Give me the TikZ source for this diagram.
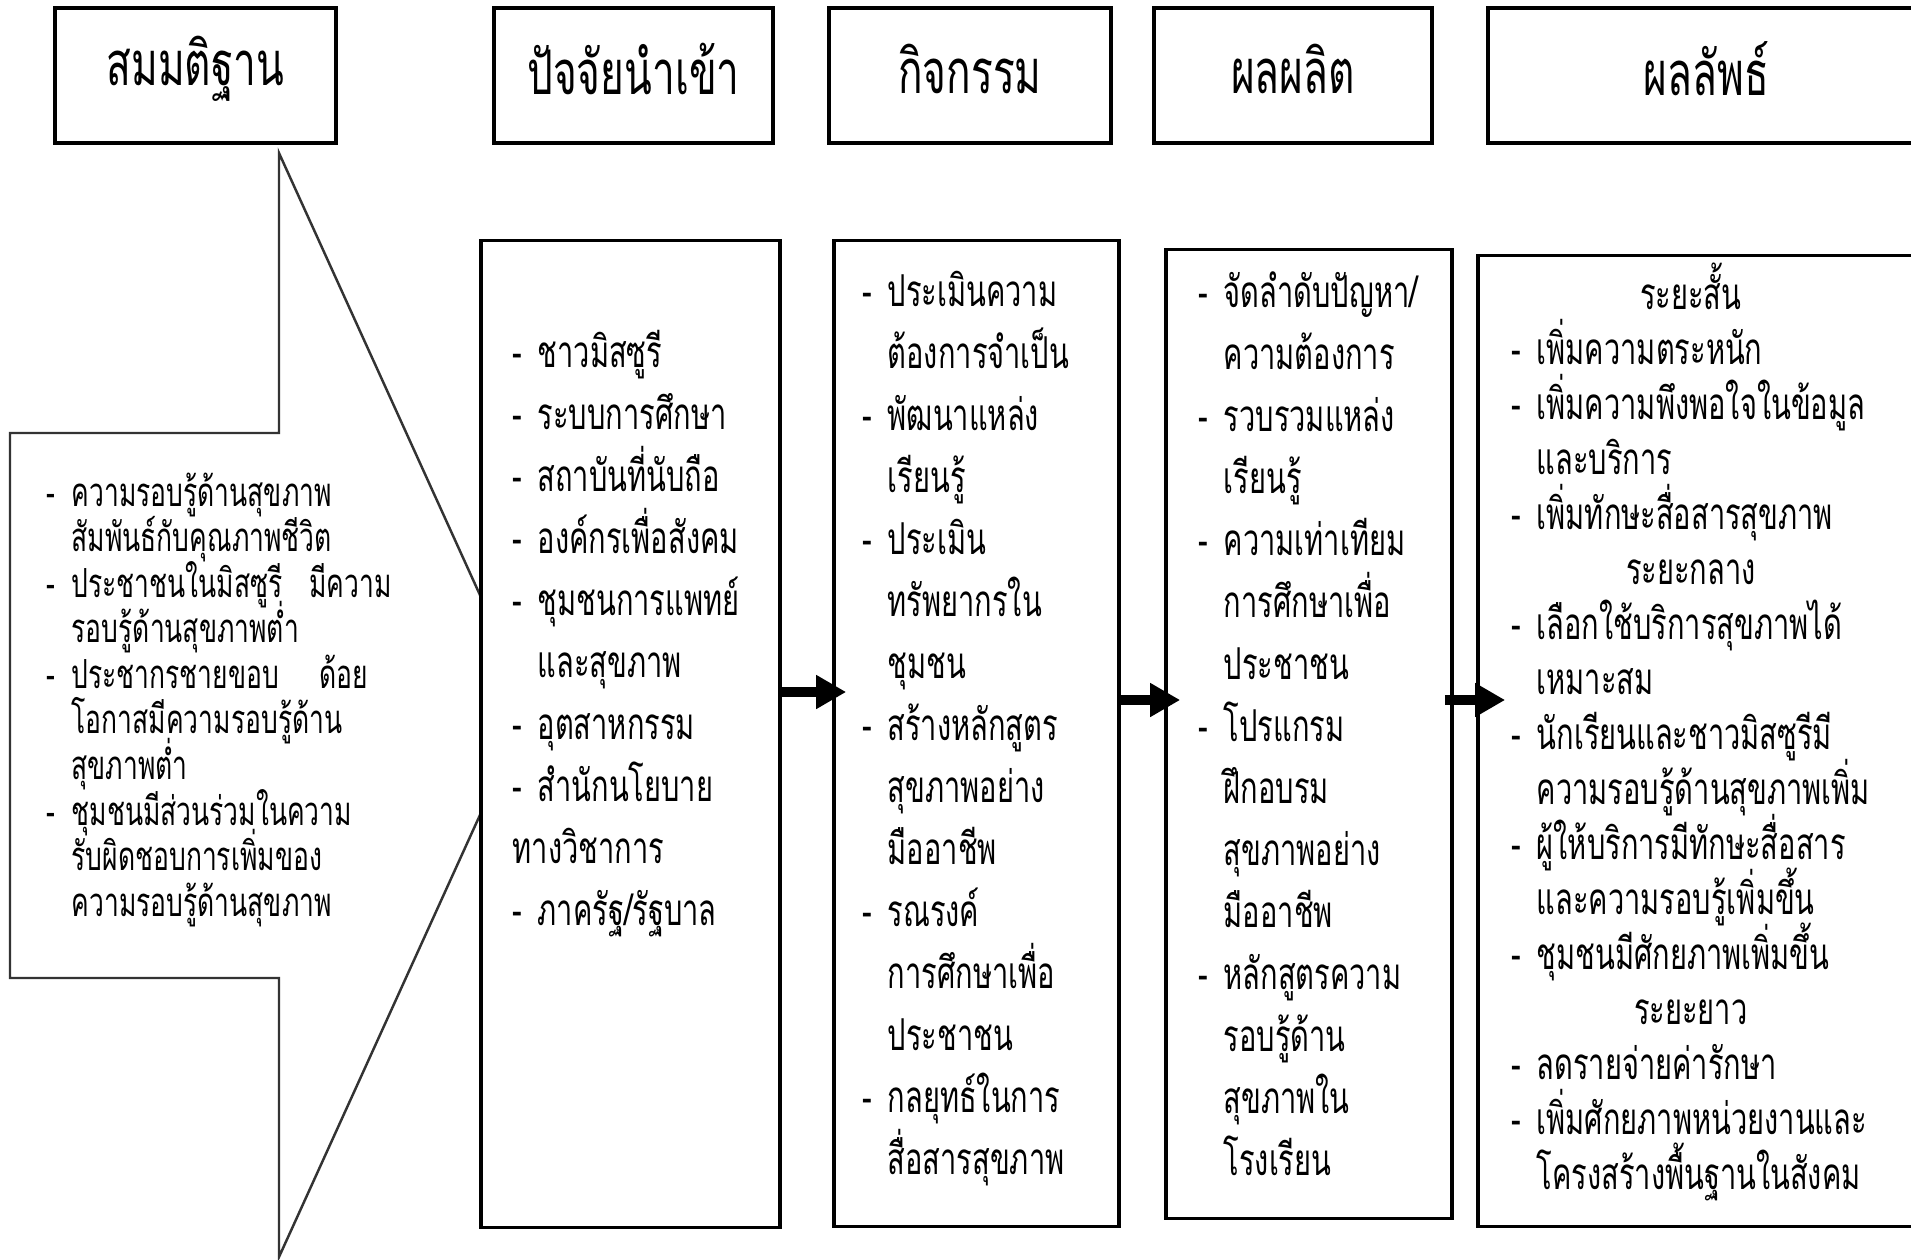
\documentclass[tikz,border=0pt]{standalone}
\usepackage{fontspec}
\usetikzlibrary{arrows.meta}
\newfontfamily\thai[Script=Thai,FakeStretch=0.66]{Loma}
% list helpers: dash with hanging indent, continuation indent, centred phase title
\newcommand\dd{\makebox[0.25cm][l]{-}}
\newcommand\ind{\hspace*{0.25cm}}
\newcommand\phasehead[1]{\makebox[3.58cm][c]{#1}}
% header captions sit a little above the box centre
\newcommand\hd[1]{\raisebox{0.07cm}[\height][\depth]{#1}}
% fixed line pitch regardless of stacked Thai marks
\newcommand\thaisize[2]{\thai\fontsize{#1}{#2}\selectfont\lineskiplimit=-\maxdimen\lineskip=0pt}
\begin{document}
\begin{tikzpicture}[x=0.01cm,y=-0.01cm,
  hdr/.style={draw, line width=1pt, inner sep=0, minimum height=1.35cm,
    font=\thaisize{17.5}{21}},
  colbox/.style={draw, fill=white, line width=1pt, inner sep=0},
  listtext/.style={inner sep=0, anchor=base west, align=left, text width=4.2cm},
  bodyfont/.style={font=\thaisize{12.5}{17.64}},
  bigarrow/.style={line width=0.1cm, -{Triangle[length=0.3cm,width=0.32cm]}}]
\fill[white] (0,0) rectangle (1911,1260);
\useasboundingbox (0,0) rectangle (1911,1260);
\clip (0,0) rectangle (1911,1260);

% header row
\node[hdr, minimum width=2.81cm] (h1) at (195.5,75.5) {\hd{สมมติฐาน}};
\node[hdr, minimum width=2.79cm] (h2) at (633.5,75.5) {\hd{ปัจจัยนำเข้า}};
\node[hdr, minimum width=2.82cm] (h3) at (970,75.5) {\hd{กิจกรรม}};
\node[hdr, minimum width=2.78cm] (h4) at (1293,75.5) {\hd{ผลผลิต}};
\node[hdr, minimum width=4.37cm] (h5) at (1706.5,75.5) {\hd{ผลลัพธ์}};

% assumptions arrow (its tip runs under the first column box)
\draw[line width=0.7pt, black!80] (10,433) -- (279,433) -- (279,153) -- (530,705)
  -- (279,1257) -- (279,978) -- (10,978) -- cycle;
\node[listtext, font=\thaisize{11.4}{12.96}] (assume) at (46,506) {%
\dd ความรอบรู้ด้านสุขภาพ\\
\ind สัมพันธ์กับคุณภาพชีวิต\\
\dd ประชาชนในมิสซูรี\ \ มีความ\\
\ind รอบรู้ด้านสุขภาพต่ำ\\
\dd ประชากรชายขอบ\ \ \ ด้อย\\
\ind โอกาสมีความรอบรู้ด้าน\\
\ind สุขภาพต่ำ\\
\dd ชุมชนมีส่วนร่วมในความ\\
\ind รับผิดชอบการเพิ่มของ\\
\ind ความรอบรู้ด้านสุขภาพ};

% column boxes
\node[colbox, minimum width=2.99cm, minimum height=9.86cm] (c1) at (630.5,734) {};
\node[colbox, minimum width=2.85cm, minimum height=9.85cm] (c2) at (976.5,733.5) {};
\node[colbox, minimum width=2.86cm, minimum height=9.68cm] (c3) at (1309,734) {};
\node[colbox, minimum width=4.47cm, minimum height=9.70cm] (c4) at (1701.5,741) {};

% inputs
\node[listtext, bodyfont] (t1) at (512,367) {%
\dd ชาวมิสซูรี\\
\dd ระบบการศึกษา\\
\dd สถาบันที่นับถือ\\
\dd องค์กรเพื่อสังคม\\
\dd ชุมชนการแพทย์\\
\ind และสุขภาพ\\
\dd อุตสาหกรรม\\
\dd สำนักนโยบาย\\
ทางวิชาการ\\
\dd ภาครัฐ/รัฐบาล};

% activities
\node[listtext, bodyfont] (t2) at (862,306) {%
\dd ประเมินความ\\
\ind ต้องการจำเป็น\\
\dd พัฒนาแหล่ง\\
\ind เรียนรู้\\
\dd ประเมิน\\
\ind ทรัพยากรใน\\
\ind ชุมชน\\
\dd สร้างหลักสูตร\\
\ind สุขภาพอย่าง\\
\ind มืออาชีพ\\
\dd รณรงค์\\
\ind การศึกษาเพื่อ\\
\ind ประชาชน\\
\dd กลยุทธ์ในการ\\
\ind สื่อสารสุขภาพ};

% outputs
\node[listtext, bodyfont] (t3) at (1198,307) {%
\dd จัดลำดับปัญหา/\\
\ind ความต้องการ\\
\dd รวบรวมแหล่ง\\
\ind เรียนรู้\\
\dd ความเท่าเทียม\\
\ind การศึกษาเพื่อ\\
\ind ประชาชน\\
\dd โปรแกรม\\
\ind ฝึกอบรม\\
\ind สุขภาพอย่าง\\
\ind มืออาชีพ\\
\dd หลักสูตรความ\\
\ind รอบรู้ด้าน\\
\ind สุขภาพใน\\
\ind โรงเรียน};

% outcomes
\node[listtext, font=\thaisize{12.5}{15.65}] (t4) at (1511,309) {%
\phasehead{ระยะสั้น}\\
\dd เพิ่มความตระหนัก\\
\dd เพิ่มความพึงพอใจในข้อมูล\\
\ind และบริการ\\
\dd เพิ่มทักษะสื่อสารสุขภาพ\\
\phasehead{ระยะกลาง}\\
\dd เลือกใช้บริการสุขภาพได้\\
\ind เหมาะสม\\
\dd นักเรียนและชาวมิสซูรีมี\\
\ind ความรอบรู้ด้านสุขภาพเพิ่ม\\
\dd ผู้ให้บริการมีทักษะสื่อสาร\\
\ind และความรอบรู้เพิ่มขึ้น\\
\dd ชุมชนมีศักยภาพเพิ่มขึ้น\\
\phasehead{ระยะยาว}\\
\dd ลดรายจ่ายค่ารักษา\\
\dd เพิ่มศักยภาพหน่วยงานและ\\
\ind โครงสร้างพื้นฐานในสังคม};

% connectors between the columns
\coordinate (rowa) at (0,692);
\coordinate (rowb) at (0,700);
\draw[bigarrow, shorten >=-0.14cm] (c1.east |- rowa) -- (c2.west |- rowa);
\draw[bigarrow, shorten >=-0.16cm] (c2.east |- rowb) -- (c3.west |- rowb);
\draw[bigarrow, shorten <=-0.09cm, shorten >=-0.29cm] (c3.east |- rowb) -- (c4.west |- rowb);
\end{tikzpicture}
\end{document}
